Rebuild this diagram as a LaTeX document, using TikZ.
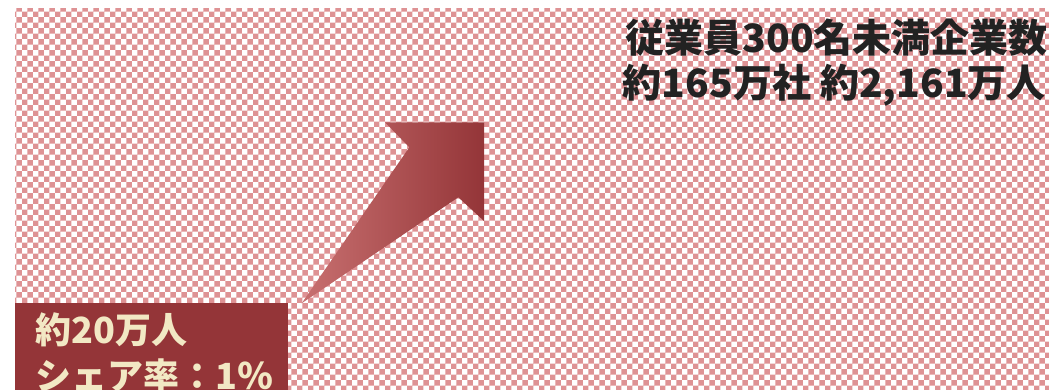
\documentclass[tikz,border=0pt]{standalone}
\usepackage{fontspec}
\newfontfamily\jpfont{Noto Sans CJK JP}
\usetikzlibrary{patterns}
\definecolor{dotred}{RGB}{222,146,148}
\definecolor{boxred}{RGB}{148,53,56}
\definecolor{lightred}{RGB}{200,112,112}
\definecolor{cream}{RGB}{242,232,196}
\definecolor{inkgray}{RGB}{34,34,34}

\begin{document}
\begin{tikzpicture}[x=1pt,y=-1pt]
    \jpfont\bfseries

    \tikzset{BG/.style={pattern=checkerboard,pattern color=dotred}}
    \tikzset{BX/.style={fill=boxred,draw=none}}
    \tikzset{BT/.style={text=cream,inner sep=0pt,anchor=base west,font=\fontsize{36}{44}\selectfont}}
    \tikzset{HT/.style={text=inkgray,inner sep=0pt,anchor=base east,font=\fontsize{39}{47}\selectfont}}
    \tikzset{AR/.style={left color=lightred,right color=boxred,draw=none}}

    \useasboundingbox (0,0) rectangle (1049,390);
    \path[BG] (15,9) rectangle (1049,390);

    % rising arrow
    \path[AR] (301.7,303.3) -- (409.3,147.3) -- (385,122.3) -- (484,122.3)
        -- (484,221) -- (458.3,197.3) -- cycle;

    % small share box
    \path[BX] (15,303) rectangle (288,390);
    \node (cnt) [BT] at (35,343) {約20万人};
    \node (share) [BT] at (35,389) {シェア率：1％};

    % headline
    \node (title) [HT] at (1048,53) {従業員300名未満企業数};
    \node (total) [HT] at (1046,98) {約165万社 約2,161万人};
\end{tikzpicture}
\end{document}
